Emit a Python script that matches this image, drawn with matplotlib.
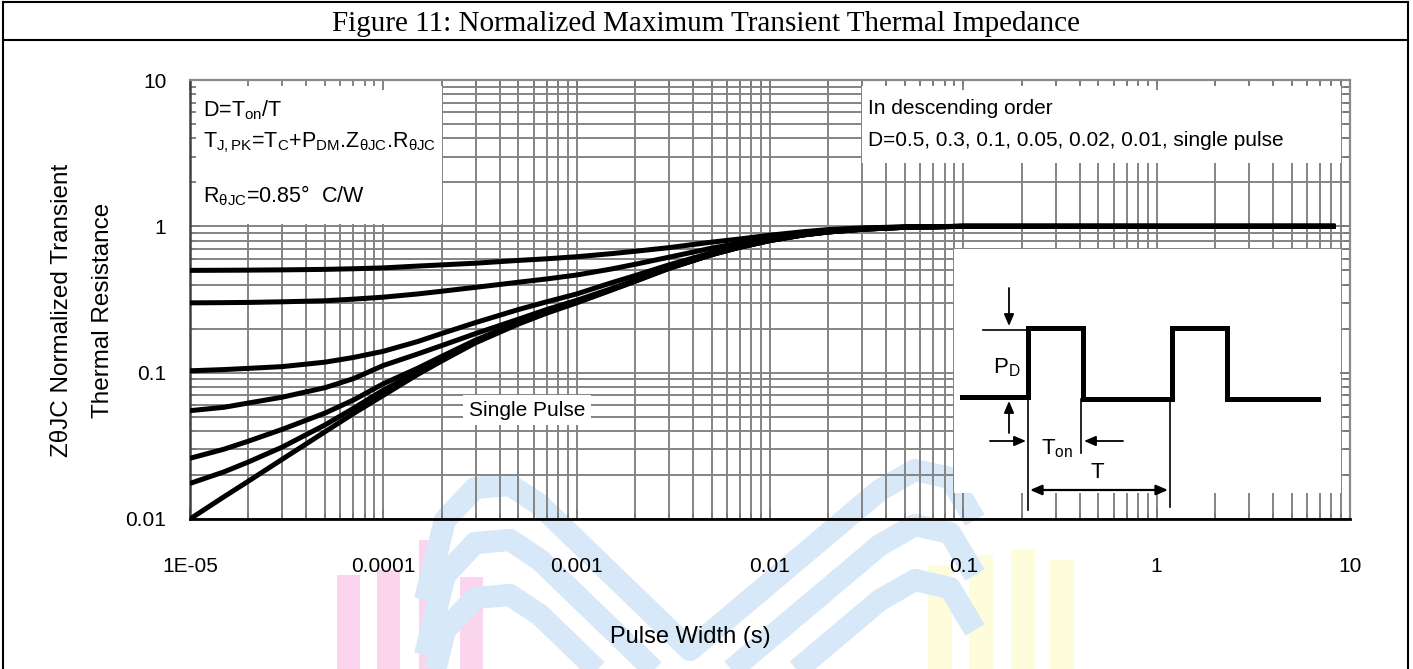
import numpy as np
import matplotlib
matplotlib.use("Agg")
import matplotlib.pyplot as plt
from matplotlib.patches import Rectangle
from matplotlib.ticker import FixedLocator, NullFormatter

plt.rcParams['font.family'] = ['Liberation Sans', 'DejaVu Sans']
plt.rcParams['mathtext.fontset'] = 'custom'
plt.rcParams['mathtext.rm'] = 'Liberation Sans'
plt.rcParams['mathtext.it'] = 'Liberation Sans:italic'
plt.rcParams['mathtext.bf'] = 'Liberation Sans:bold'
plt.rcParams['mathtext.default'] = 'regular'

# ---------------- data ----------------
pulse_width = [1e-5, 1.5e-5, 2e-5, 3e-5, 5e-5, 7e-5, 1e-4, 1.5e-4, 2e-4, 3e-4,
               5e-4, 7e-4, 1e-3, 1.5e-3, 2e-3, 3e-3, 5e-3, 7e-3, 1e-2, 1.5e-2,
               2e-2, 3e-2, 5e-2, 1e-1, 1.0, 8.4]
z_d050 = [0.50, 0.501, 0.502, 0.504, 0.508, 0.513, 0.52, 0.535, 0.545, 0.56,
          0.585, 0.60, 0.62, 0.65, 0.675, 0.715, 0.78, 0.82, 0.87, 0.92,
          0.95, 0.975, 0.992, 1.0, 1.0, 1.0]
z_d030 = [0.30, 0.301, 0.302, 0.305, 0.31, 0.318, 0.328, 0.345, 0.36, 0.383,
          0.415, 0.437, 0.465, 0.51, 0.55, 0.615, 0.71, 0.77, 0.84, 0.90,
          0.935, 0.97, 0.99, 1.0, 1.0, 1.0]
z_d010 = [0.103, 0.105, 0.107, 0.11, 0.118, 0.127, 0.14, 0.163, 0.185, 0.22,
          0.27, 0.305, 0.345, 0.41, 0.46, 0.545, 0.66, 0.735, 0.81, 0.88,
          0.92, 0.96, 0.988, 1.0, 1.0, 1.0]
z_d005 = [0.055, 0.058, 0.062, 0.068, 0.079, 0.091, 0.112, 0.134, 0.153, 0.185,
          0.232, 0.27, 0.312, 0.374, 0.428, 0.522, 0.645, 0.724, 0.802, 0.876,
          0.916, 0.956, 0.985, 1.0, 1.0, 1.0]
z_d002 = [0.026, 0.030, 0.034, 0.041, 0.053, 0.065, 0.084, 0.107, 0.129, 0.167,
          0.221, 0.261, 0.305, 0.369, 0.424, 0.519, 0.642, 0.722, 0.80, 0.875,
          0.915, 0.955, 0.985, 1.0, 1.0, 1.0]
z_d001 = [0.0175, 0.021, 0.0245, 0.031, 0.044, 0.057, 0.076, 0.101, 0.124, 0.163,
          0.218, 0.258, 0.302, 0.367, 0.422, 0.517, 0.641, 0.721, 0.80, 0.875,
          0.915, 0.955, 0.985, 1.0, 1.0, 1.0]
z_single = [0.010, 0.0142, 0.0181, 0.0256, 0.0395, 0.0525, 0.070, 0.097, 0.120, 0.160,
            0.215, 0.255, 0.300, 0.365, 0.42, 0.515, 0.64, 0.72, 0.80, 0.875,
            0.915, 0.955, 0.985, 1.0, 1.0, 1.0]
duty_series = [z_d050, z_d030, z_d010, z_d005, z_d002, z_d001, z_single]

x_ticks = [1e-5, 1e-4, 1e-3, 1e-2, 1e-1, 1, 10]
x_tick_labels = ["1E-05", "0.0001", "0.001", "0.01", "0.1", "1", "10"]
y_ticks = [0.01, 0.1, 1, 10]
y_tick_labels = ["0.01", "0.1", "1", "10"]

title = "Figure 11: Normalized Maximum Transient Thermal Impedance"
x_label = "Pulse Width (s)"
y_label_1 = "ZθJC Normalized Transient"
y_label_2 = "Thermal Resistance"

# ---------------- figure ----------------
W, H = 1413, 669
fig = plt.figure(figsize=(W / 100, H / 100), dpi=100)
fig.patch.set_facecolor('white')

# faint background watermark
bg = fig.add_axes([0, 0, 1, 1], zorder=-10)
bg.set_xlim(0, W); bg.set_ylim(H, 0); bg.axis('off')
for left, top in zip([337, 377, 419, 460], [575, 570, 540, 577]):
    bg.add_patch(Rectangle((left, top), 23, H - top, facecolor='#fbd5ee', edgecolor='none'))
for left, top in zip([928, 969, 1011, 1050], [565, 555, 550, 560]):
    bg.add_patch(Rectangle((left, top), 24, H - top, facecolor='#fdfcdb', edgecolor='none'))
band_x = np.array([425, 445, 475, 510, 540, 690, 880, 915, 950, 975])
band_y = np.array([600, 520, 488, 485, 505, 650, 490, 470, 478, 520])
for off in [0, 55, 110]:
    bg.plot(band_x, band_y + off, color='#d7e8f8', lw=16, solid_joinstyle='round',
            solid_capstyle='butt')

# main axes
ax = fig.add_axes([190 / W, 1 - 519 / H, (1350 - 190) / W, (519 - 80) / H], zorder=1)
ax.set_facecolor('none')
ax.set_xscale('log'); ax.set_yscale('log')
ax.set_xlim(1e-5, 10); ax.set_ylim(0.01, 10)

grid_x = [m * 10.0 ** e for e in range(-5, 1) for m in range(1, 10)] + [10.0]
grid_y = [m * 10.0 ** e for e in range(-2, 1) for m in range(1, 10)] + [10.0]
ax.vlines(grid_x, 0.01, 10, colors='#848484', lw=1.4, zorder=0.5)
ax.hlines(grid_y, 1e-5, 10, colors='#848484', lw=1.4, zorder=0.5)

# white boxes that hide the grid
ax.add_patch(Rectangle((1e-5, 1.04), 2e-4 - 1e-5, 10 - 1.04, facecolor='white',
                       edgecolor='none', zorder=1))
ax.add_patch(Rectangle((0.03, 2.7), 9.0 - 0.03, 9.3 - 2.7, facecolor='white',
                       edgecolor='none', zorder=1))
ax.add_patch(Rectangle((0.09, 0.015), 9.0 - 0.09, 0.7 - 0.015, facecolor='white',
                       edgecolor='none', zorder=1))

for ys in duty_series:
    ax.plot(pulse_width, ys, color='black', lw=3.6, zorder=3,
            solid_capstyle='butt', solid_joinstyle='round')

ax.xaxis.set_major_locator(FixedLocator(x_ticks))
ax.set_xticklabels(x_tick_labels)
ax.yaxis.set_major_locator(FixedLocator(y_ticks))
ax.set_yticklabels(y_tick_labels)
ax.xaxis.set_minor_locator(FixedLocator(grid_x))
ax.yaxis.set_minor_locator(FixedLocator(grid_y))
ax.xaxis.set_minor_formatter(NullFormatter())
ax.yaxis.set_minor_formatter(NullFormatter())
ax.tick_params(which='both', direction='in', top=True, right=True, color='#7a7a7a')
ax.tick_params(which='major', length=7, width=1.3)
ax.tick_params(which='minor', length=4, width=1.3)
ax.tick_params(axis='x', which='major', labelsize=15, pad=27)
ax.tick_params(axis='y', which='major', labelsize=15, pad=17)

ax.spines['bottom'].set_color('black'); ax.spines['bottom'].set_linewidth(2.0)
ax.spines['left'].set_color('#404040'); ax.spines['left'].set_linewidth(1.8)
for s in ['top', 'right']:
    ax.spines[s].set_color('#8a8a8a'); ax.spines[s].set_linewidth(1.6)

# ---------------- overlay (frame, texts, inset diagram) ----------------
ov = fig.add_axes([0, 0, 1, 1], zorder=5)
ov.set_xlim(0, W); ov.set_ylim(H, 0); ov.axis('off'); ov.patch.set_alpha(0)

ov.plot([3, 3], [2, H], color='black', lw=1.5)
ov.plot([1408, 1408], [2, H], color='black', lw=1.5)
ov.plot([3, 1408], [2, 2], color='black', lw=1.5)
ov.plot([3, 1408], [40, 40], color='black', lw=1.5)
ov.text(706, 24, title, ha='center', va='center', fontsize=21,
        family=['Liberation Serif', 'DejaVu Serif'])

ov.text(690, 637, x_label, ha='center', va='center', fontsize=17)
ov.text(62, 310, y_label_1, ha='center', va='center', fontsize=17.5, rotation=90)
ov.text(103, 310, y_label_2, ha='center', va='center', fontsize=17.5, rotation=90)

ov.text(203, 110, "D=T$_{on}$/T", ha='left', va='center', fontsize=15.5)
ov.text(203, 143, "T$_{J,PK}$=T$_{C}$+P$_{DM}$.Z$_{θJC}$.R$_{θJC}$", ha='left',
        va='center', fontsize=15.5)
ov.text(203, 196, "R$_{θJC}$=0.85°  C/W", ha='left', va='center', fontsize=15.5)
ov.text(868, 108, "In descending order", ha='left', va='center', fontsize=15)
ov.text(868, 140, "D=0.5, 0.3, 0.1, 0.05, 0.02, 0.01, single pulse", ha='left',
        va='center', fontsize=15)
ov.text(527, 410, "Single Pulse", ha='center', va='center', fontsize=15,
        bbox=dict(facecolor='white', edgecolor='none', pad=4))

# pulse diagram
ov.plot([962, 1028, 1028, 1083, 1083, 1172, 1172, 1227, 1227, 1318],
        [397, 397, 328, 328, 399, 399, 328, 328, 399, 399],
        color='black', lw=3.6, solid_joinstyle='miter')
thin = dict(color='black', lw=1.2)
ov.plot([983, 1028], [330, 330], **thin)
ov.plot([1028, 1028], [397, 510], **thin)
ov.plot([1081, 1081], [399, 453], **thin)
ov.plot([1170, 1170], [399, 507], **thin)
arr = dict(arrowstyle='-|>,head_length=0.7,head_width=0.3', color='black', lw=1.3,
           shrinkA=0, shrinkB=0)
ov.annotate('', xy=(1009, 326), xytext=(1009, 288), arrowprops=arr)
ov.annotate('', xy=(1009, 401), xytext=(1009, 433), arrowprops=arr)
ov.annotate('', xy=(1026, 441), xytext=(990, 441), arrowprops=arr)
ov.annotate('', xy=(1084, 441), xytext=(1123, 441), arrowprops=arr)
ov.annotate('', xy=(1168, 490), xytext=(1030, 490),
            arrowprops=dict(arrowstyle='<|-|>,head_length=0.7,head_width=0.3',
                            color='black', lw=1.6, shrinkA=0, shrinkB=0))
ov.text(1007, 368, "P$_{D}$", ha='center', va='center', fontsize=16)
ov.text(1057, 449, "T$_{on}$", ha='center', va='center', fontsize=16)
ov.text(1097, 473, "T", ha='center', va='center', fontsize=16)

fig.savefig("out.png", dpi=100, facecolor='white')
